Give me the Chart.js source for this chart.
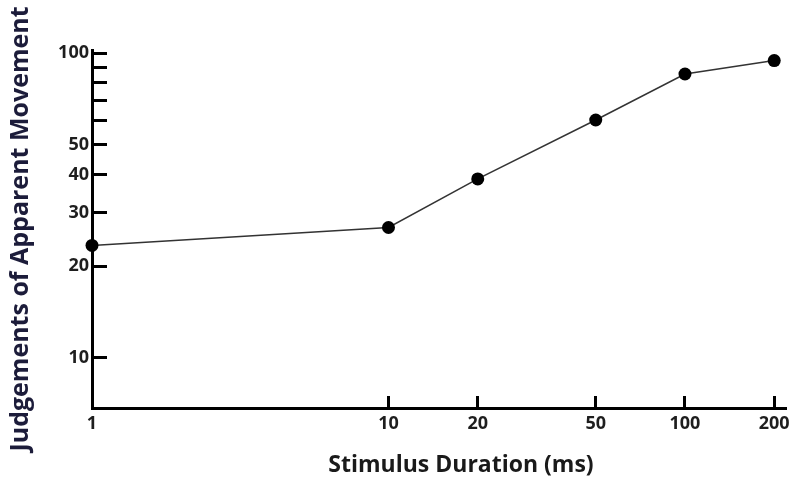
<!DOCTYPE html>
<html>
<head>
<meta charset="utf-8">
<script src="https://cdn.jsdelivr.net/npm/chart.js@4"></script>
<style>
  body { margin: 0; background: #fff; }
  #durationChart { display: block; }
</style>
</head>
<body>
<canvas id="durationChart" width="793" height="478"></canvas>
<script>
// stimulus duration (ms) and judged apparent movement
var durations = [1, 10, 20, 50, 100, 200];
var judgements = [23.4, 26.8, 38.7, 60.4, 85.5, 94.6];

// axis ticks, log scales on both axes
var xTicks = [1, 10, 20, 50, 100, 200];
var yTicks = [10, 20, 30, 40, 50, 60, 70, 80, 90, 100];
var yLabels = [10, 20, 30, 40, 50, 100];

var xTitle = 'Stimulus Duration (ms)';
var yTitle = 'Judgements of Apparent Movement';

var points = durations.map(function(d, i) {
    return { x: d, y: judgements[i] };
});

var tickFont = { family: 'Open Sans', size: 18, weight: 'bold' };

// x axis title sits a bit right of the plot centre, so it is drawn by hand
var xTitlePlugin = {
    id: 'xTitle',
    afterDraw: function(chart) {
        var c = chart.ctx;
        c.save();
        c.font = 'bold 23px "Open Sans"';
        c.fillStyle = '#1a1a1a';
        c.textAlign = 'center';
        c.textBaseline = 'middle';
        c.fillText(xTitle, 461, 465);
        c.restore();
    }
};

var ctx = document.getElementById('durationChart');
var myChart = new Chart(ctx, {
    type: 'line',
    data: {
        datasets: [
            {
                label: 'Apparent movement',
                data: points,
                borderColor: '#333',
                borderWidth: 1.5,
                pointRadius: 6.5,
                pointHoverRadius: 6.5,
                pointBackgroundColor: '#000',
                pointBorderColor: '#000',
                pointBorderWidth: 0,
                tension: 0,
                fill: false,
                clip: false
            }
        ]
    },
    plugins: [xTitlePlugin],
    options: {
        responsive: false,
        animation: false,
        layout: {
            padding: { top: 50, right: 3, bottom: 0, left: 0 }
        },
        plugins: {
            legend: { display: false },
            tooltip: { enabled: false }
        },
        scales: {
            x: {
                type: 'logarithmic',
                position: 'bottom',
                min: 1,
                max: 220,
                afterBuildTicks: function(scale) {
                    scale.ticks = xTicks.map(function(v) { return { value: v }; });
                },
                afterFit: function(scale) {
                    scale.height = 70;
                    // let the "200" label hang over the edge instead of shrinking the plot
                    scale.paddingLeft = 0;
                    scale.paddingRight = 0;
                },
                border: { display: true, color: '#000', width: 3 },
                grid: {
                    drawOnChartArea: false,
                    drawTicks: true,
                    tickLength: -12,
                    tickWidth: 3,
                    tickColor: '#000'
                },
                ticks: {
                    autoSkip: false,
                    maxRotation: 0,
                    padding: 17,
                    color: '#1e1e1e',
                    font: tickFont,
                    callback: function(value) {
                        return String(value);
                    }
                },
                title: { display: false }
            },
            y: {
                type: 'logarithmic',
                position: 'left',
                min: 6.85,
                max: 102.5,
                afterBuildTicks: function(scale) {
                    scale.ticks = yTicks.map(function(v) { return { value: v }; });
                },
                afterFit: function(scale) {
                    scale.width = 92;
                    scale.paddingTop = 0;
                    scale.paddingBottom = 0;
                },
                border: { display: true, color: '#000', width: 3 },
                grid: {
                    drawOnChartArea: false,
                    drawTicks: true,
                    tickLength: -15,
                    tickWidth: 3,
                    tickColor: '#000'
                },
                ticks: {
                    autoSkip: false,
                    padding: 18,
                    color: '#1e1e1e',
                    font: tickFont,
                    callback: function(value) {
                        return yLabels.indexOf(value) >= 0 ? String(value) : '';
                    }
                },
                title: {
                    display: true,
                    text: yTitle,
                    color: '#1c1c3a',
                    font: { family: 'Open Sans', size: 25, weight: 'bold' },
                    padding: { top: 6, bottom: 0 }
                }
            }
        }
    }
});
</script>
</body>
</html>
